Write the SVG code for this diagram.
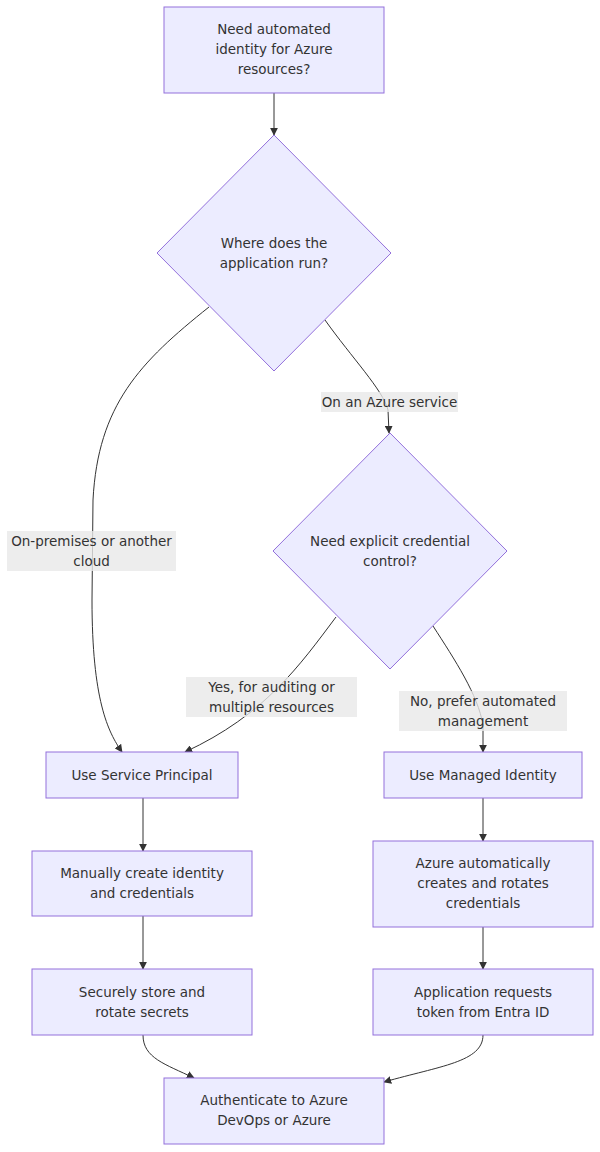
<svg xmlns="http://www.w3.org/2000/svg" width="600" height="1152" viewBox="0 0 600 1152">
<defs>
<marker id="arrow" viewBox="0 0 10 10" refX="9" refY="5" markerWidth="8" markerHeight="8" markerUnits="userSpaceOnUse" orient="auto">
<path d="M0,0 L10,5 L0,10 z" fill="#333333"/>
</marker>
<style>
.node rect, .node polygon { fill: #ECECFF; stroke: #9370DB; stroke-width: 1; }
text { font-family: "DejaVu Sans", Verdana, sans-serif; font-size: 13.5px; fill: #333333; text-anchor: middle; dominant-baseline: central; }
.edge { fill: none; stroke: #333333; stroke-width: 1; marker-end: url(#arrow); }
.lbl { fill: #e8e8e8; opacity: 0.8; }
</style>
</defs>
<rect width="600" height="1152" fill="#ffffff"/>
<g id="edges">
<path class="edge" d="M274,93 L274,135"/>
<path class="edge" d="M209,307 C140,362 98,405 93,500 L92,600 C92,700 108,732 122,752"/>
<path class="edge" d="M325,320 C352,358 383,390 388,410 L389,433"/>
<path class="edge" d="M336,617 C300,665 265,715 185,752"/>
<path class="edge" d="M433,626 C455,660 478,695 483,725 L483,752"/>
<path class="edge" d="M143,798 L143,851"/>
<path class="edge" d="M483,798 L483,841"/>
<path class="edge" d="M143,916 L143,969"/>
<path class="edge" d="M483,927 L483,969"/>
<path class="edge" d="M143,1035 C143,1058 165,1064 194,1078"/>
<path class="edge" d="M483,1035 C483,1062 440,1066 384,1082"/>
</g>
<g id="edge-labels">
<g id="lbl-onprem"><rect class="lbl" x="7" y="531" width="169" height="40"/><text x="91.5" y="540.5">On-premises or another</text><text x="91.5" y="560.5">cloud</text></g>
<g id="lbl-azure"><rect class="lbl" x="321" y="392" width="137" height="20"/><text x="389.5" y="401.5">On an Azure service</text></g>
<g id="lbl-yes"><rect class="lbl" x="186" y="677" width="171" height="40"/><text x="271.5" y="686.5">Yes, for auditing or</text><text x="271.5" y="706.5">multiple resources</text></g>
<g id="lbl-no"><rect class="lbl" x="399" y="691" width="168" height="40"/><text x="483" y="700.5">No, prefer automated</text><text x="483" y="720.5">management</text></g>
</g>
<g id="n-start" class="node"><rect x="164" y="7" width="220" height="86"/><text x="274" y="29">Need automated</text><text x="274" y="49">identity for Azure</text><text x="274" y="69">resources?</text></g>
<g id="n-where" class="node"><polygon points="274,135 391,253 274,371 157,253"/><text x="274" y="242.5">Where does the</text><text x="274" y="262.5">application run?</text></g>
<g id="n-control" class="node"><polygon points="390,433 507,551 390,669 273,551"/><text x="390" y="540.5">Need explicit credential</text><text x="390" y="560.5">control?</text></g>
<g id="n-sp" class="node"><rect x="46" y="752" width="192" height="46"/><text x="142" y="774.5">Use Service Principal</text></g>
<g id="n-mi" class="node"><rect x="384" y="752" width="198" height="46"/><text x="483" y="774.5">Use Managed Identity</text></g>
<g id="n-manual" class="node"><rect x="32" y="851" width="220" height="65"/><text x="142" y="872.5">Manually create identity</text><text x="142" y="892.5">and credentials</text></g>
<g id="n-auto" class="node"><rect x="373" y="841" width="220" height="86"/><text x="483" y="862.5">Azure automatically</text><text x="483" y="882.5">creates and rotates</text><text x="483" y="902.5">credentials</text></g>
<g id="n-store" class="node"><rect x="32" y="969" width="220" height="66"/><text x="142" y="991.5">Securely store and</text><text x="142" y="1011.5">rotate secrets</text></g>
<g id="n-token" class="node"><rect x="373" y="969" width="220" height="66"/><text x="483" y="991.5">Application requests</text><text x="483" y="1011.5">token from Entra ID</text></g>
<g id="n-auth" class="node"><rect x="164" y="1078" width="220" height="66"/><text x="274" y="1099.5">Authenticate to Azure</text><text x="274" y="1119.5">DevOps or Azure</text></g>
</svg>
